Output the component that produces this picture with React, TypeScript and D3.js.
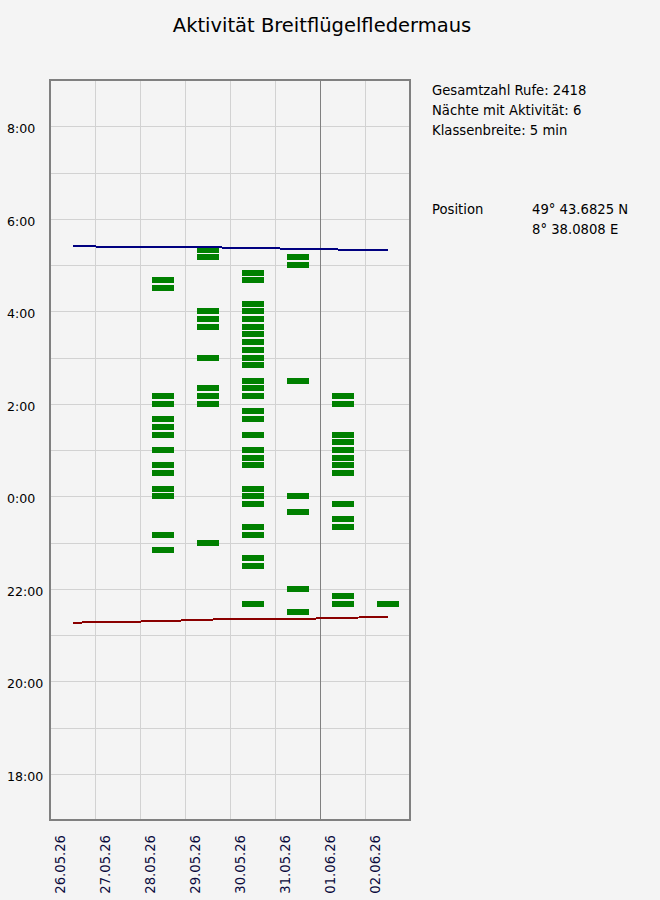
import React from "react";
import * as d3 from "d3";

// nights shown on the x axis (one column per date)
const DAYS = ["26.05.26", "27.05.26", "28.05.26", "29.05.26", "30.05.26", "31.05.26", "01.06.26", "02.06.26"];
const MONTH_START = "01.06.26";

// twilight lines, one value per night
const SUNSET = ["21:16", "21:17", "21:18", "21:20", "21:21", "21:21", "21:22", "21:24"];
const SUNRISE = ["5:25", "5:23", "5:23", "5:23", "5:22", "5:21", "5:20", "5:19"];

// 5 min classes with calls, per night
const CALLS_2805 = ["4:40", "4:30", "2:10", "2:00", "1:40", "1:30", "1:20", "1:00", "0:40", "0:30", "0:10", "0:00", "23:10", "22:50"];
const CALLS_2905 = ["5:20", "5:10", "4:00", "3:50", "3:40", "3:00", "2:20", "2:10", "2:00", "23:00"];
const CALLS_3005 = ["4:50", "4:40", "4:10", "4:00", "3:50", "3:40", "3:30", "3:20", "3:10", "3:00", "2:50", "2:30", "2:20", "2:10",
  "1:50", "1:40", "1:20", "1:00", "0:50", "0:40", "0:10", "0:00", "23:50", "23:20", "23:10", "22:40", "22:30", "21:40"];
const CALLS_3105 = ["5:10", "5:00", "2:30", "0:00", "23:40", "22:00", "21:30"];
const CALLS_0106 = ["2:10", "2:00", "1:20", "1:10", "1:00", "0:50", "0:40", "0:30", "23:50", "23:30", "23:20", "21:50", "21:40"];
const CALLS_0206 = ["21:40"];

const HOUR_LABELS = ["8:00", "6:00", "4:00", "2:00", "0:00", "22:00", "20:00", "18:00"];
const TIME_FROM = "17:00";
const TIME_TO = "9:00";

const TITLE = "Aktivität Breitflügelfledermaus";
const INFO_LINES = ["Gesamtzahl Rufe: 2418", "Nächte mit Aktivität: 6", "Klassenbreite: 5 min"];
const POSITION_LABEL = "Position";
const POSITION_LINES = ["49° 43.6825 N", "8° 38.0808 E"];

const nights = [
  { day: "28.05.26", calls: CALLS_2805 },
  { day: "29.05.26", calls: CALLS_2905 },
  { day: "30.05.26", calls: CALLS_3005 },
  { day: "31.05.26", calls: CALLS_3105 },
  { day: "01.06.26", calls: CALLS_0106 },
  { day: "02.06.26", calls: CALLS_0206 },
];

// minutes since noon, so a night runs without a break at midnight
function toMin(s: string) {
  const [h, m] = s.split(":").map(Number);
  return (h * 60 + m - 720 + 1440) % 1440;
}

const W = 660;
const H = 900;
const FONT = "'DejaVu Sans', Verdana, sans-serif";
const plot = { left: 50, right: 410, top: 80, bottom: 820 };

export default function App() {
  const x = d3.scaleLinear().domain([0, DAYS.length]).range([plot.left + 0.5, plot.right + 0.5]);
  const y = d3.scaleLinear().domain([toMin(TIME_FROM), toMin(TIME_TO)]).range([plot.bottom, plot.top]);

  const hourLines = d3.range(toMin(TIME_FROM) + 60, toMin(TIME_TO), 60);

  const line = d3.line<string>()
    .x((_, i) => x(i + 0.5))
    .y((d) => y(toMin(d)));

  const barH = 6;

  return (
    <div style={{ position: "absolute", left: 0, top: 0, width: W, height: H, background: "#f4f4f4" }}>
      <svg width={W} height={H} style={{ display: "block" }} fontFamily={FONT}>
        <text x={322} y={32} textAnchor="middle" fontSize={19.5} fill="#000">{TITLE}</text>

        {/* grid */}
        {hourLines.map((m) => (
          <line key={m} x1={plot.left} x2={plot.right} y1={Math.round(y(m)) + 0.5} y2={Math.round(y(m)) + 0.5}
            stroke="#d2d2d2" strokeWidth={1} />
        ))}
        {DAYS.slice(1).map((d, i) => (
          <line key={d} x1={Math.round(x(i + 1)) - 0.5} x2={Math.round(x(i + 1)) - 0.5} y1={plot.top} y2={plot.bottom}
            stroke={d === MONTH_START ? "#808080" : "#d2d2d2"} strokeWidth={1} />
        ))}

        {/* activity bars */}
        {nights.map((n) => {
          const di = DAYS.indexOf(n.day);
          return n.calls.map((c) => (
            <rect key={n.day + c} x={x(di + 0.25)} width={x(di + 0.75) - x(di + 0.25)}
              y={Math.round(y(toMin(c)) - barH / 2)} height={barH} fill="#008000" shapeRendering="crispEdges" />
          ));
        })}

        {/* sunset / sunrise */}
        <path d={line(SUNSET) ?? ""} fill="none" stroke="#8b0000" strokeWidth={2} shapeRendering="crispEdges" />
        <path d={line(SUNRISE) ?? ""} fill="none" stroke="#000080" strokeWidth={2} shapeRendering="crispEdges" />

        <rect x={plot.left} y={plot.top} width={plot.right - plot.left} height={plot.bottom - plot.top}
          fill="none" stroke="#808080" strokeWidth={2} />

        {/* y axis */}
        {HOUR_LABELS.map((l) => (
          <text key={l} x={7} y={y(toMin(l)) + 7} textAnchor="start" fontSize={12.6} fill="#000">{l}</text>
        ))}

        {/* x axis */}
        {DAYS.map((d, i) => (
          <text key={d} transform={`translate(${x(i) + 14.5},835) rotate(-90)`} textAnchor="end" fontSize={13.2} fill="#0a0a3c">{d}</text>
        ))}

        {/* info */}
        {INFO_LINES.map((t, i) => (
          <text key={t} x={432} y={95 + i * 20} fontSize={13.2} fill="#000">{t}</text>
        ))}
        <text x={432} y={214} fontSize={13.2} fill="#000">{POSITION_LABEL}</text>
        {POSITION_LINES.map((t, i) => (
          <text key={t} x={532} y={214 + i * 20} fontSize={13.2} fill="#000">{t}</text>
        ))}
      </svg>
    </div>
  );
}
